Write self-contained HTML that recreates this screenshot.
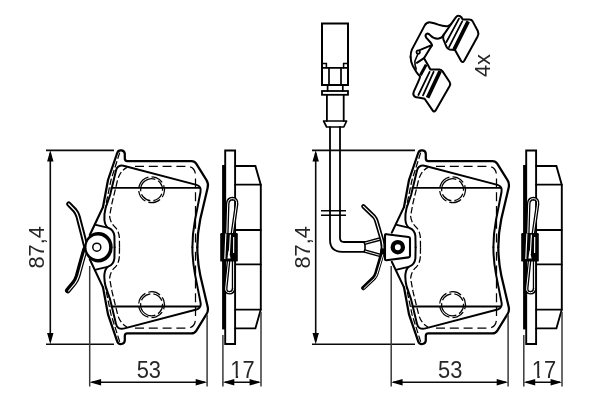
<!DOCTYPE html>
<html lang="en">
<head>
<meta charset="utf-8">
<title>Brake pad set dimensions</title>
<style>
html,body{margin:0;padding:0;background:#fff;}
body{width:600px;height:400px;overflow:hidden;}
svg{display:block;will-change:transform;}
text{font-family:"Liberation Sans",Arial,Helvetica,sans-serif;font-size:24.4px;fill:#262626;}
.m{fill:none;stroke:#000;stroke-width:2.25;stroke-linejoin:round;stroke-linecap:round;}
.d{fill:none;stroke:#000;stroke-width:1.25;stroke-dasharray:6.5 2.6;}
.t{fill:none;stroke:#0a0a0a;stroke-width:1.6;}
.e{fill:none;stroke:#3a3a3a;stroke-width:1.5;}
.a{fill:#000;stroke:none;}
</style>
</head>
<body>
<svg width="600" height="400" viewBox="0 0 600 400">
<defs>
  <!-- upper half of front view of pad (mirrored about y=247.2) -->
  <g id="padHalf">
    <!-- backplate outer -->
    <path class="m" d="M197.3,247.2 C197.4,236 198.6,227 200.3,219 L207.6,188 Q208.7,183.6 206.5,180.2 L196.2,163.6 Q194.6,161 191.5,161 L127.3,161 Q124.8,161 124.8,158.5 L124.8,154.4 A3.9,3.9 0 0 0 117.2,153 L108,180 L103,207"/>
    <!-- friction pad solid outline -->
    <path class="m" d="M192.4,247.2 C192.4,236 193.5,228 195,220 L200.5,192 Q201.6,186.4 196.5,184.9 L124.5,166 Q121,165 118.3,166.6 Q116.6,167.8 116,170.5 L110.1,195 L105.6,208 Q104,214 104.4,220 Q105,226 108.5,228 Q113.6,229.8 114.4,236 L114.6,247.2" style="stroke-width:2"/>
    <!-- pin line -->
    <path class="m" d="M111.3,187.9 L199.3,187.9" style="stroke-width:1.9"/>
    <!-- dashed -->
    <path class="d" d="M119.7,152.6 L111,180 L105.6,206"/>
    <path class="d" d="M119.5,247.2 L119.4,238 Q119,231.4 115.4,227.4 Q110.2,223 109.6,216 L112,203 L117.6,180 Q120,171 127,167.4"/>
    <path class="d" d="M135,166.3 L186.5,166.3 Q195.5,166.3 195.5,176 L195.5,247.2" style="stroke-dasharray:9 4.8"/>
    <circle class="d" cx="151.6" cy="189.7" r="12.9" style="stroke-dasharray:12.4 3.2" transform="rotate(-160 151.6 189.7)"/>
    <circle class="d" cx="151.6" cy="189.7" r="11" style="stroke-dasharray:11.4 3" transform="rotate(-130 151.6 189.7)"/>
  </g>
  <g id="pad">
    <use href="#padHalf"/>
    <use href="#padHalf" transform="translate(0,494.4) scale(1,-1)"/>
  </g>

  <!-- side view -->
  <g id="side">
    <rect class="a" x="222.1" y="165" width="3.2" height="164.4"/>
    <path class="m" d="M225.2,344 L225.2,150.5 L235.1,150.5 L235.1,344 Z" style="stroke-width:1.9;stroke-linejoin:miter"/>
    <path class="m" d="M235.1,166 L255.4,166 L260.8,185 L260.8,309.4 L255.4,328.4 L235.1,328.4" style="stroke-width:1.9;stroke-linejoin:miter"/>
    <path class="m" d="M235.1,184.7 H260.8 M235.1,230 H260.8 M235.1,264.4 H260.8 M235.1,309.6 H260.8" style="stroke-width:1.8"/>
    <!-- hairpin springs -->
    <path d="M226.4,246 L227.7,204 Q228,198.7 232.4,198.6 Q237,198.8 236.6,204 L230.6,246" fill="none" stroke="#000" stroke-width="3.6" stroke-linecap="round"/>
    <path d="M226.4,246 L227.7,204 Q228,198.7 232.4,198.6 Q237,198.8 236.6,204 L230.6,246" fill="none" stroke="#fff" stroke-width="1" stroke-linecap="round"/>
    <path d="M229.8,249 L225.7,288 Q225.3,292.6 229.4,292.7 Q233.5,292.7 233.6,288.4 L233.6,249" fill="none" stroke="#000" stroke-width="3.6" stroke-linecap="round"/>
    <path d="M229.8,249 L225.7,288 Q225.3,292.6 229.4,292.7 Q233.5,292.7 233.6,288.4 L233.6,249" fill="none" stroke="#fff" stroke-width="1" stroke-linecap="round"/>
    <rect class="a" x="220.2" y="233" width="17.6" height="28.6" rx="1.2"/>
    <path d="M225.9,233.4 L224.8,259 M230.4,234.6 L229.3,254 M233.7,237 L233.6,253" fill="none" stroke="#fff" stroke-width="1.15"/>
    <path d="M228.6,250 L227.4,258.4 L230.6,258.4 Z" fill="#fff"/>
  </g>
  <clipPath id="c17a"><path clip-rule="evenodd" d="M215,350 H270 V395 H215 Z M229,375.4 H235.7 V379 H229 Z M238.1,375.4 H244 V379 H238.1 Z"/></clipPath>
  <clipPath id="c17b"><path clip-rule="evenodd" d="M515,350 H575 V395 H515 Z M530,375.4 H537.3 V379 H530 Z M539.7,375.4 H546 V379 H539.7 Z"/></clipPath>
</defs>

<!-- ===================== LEFT PAD ===================== -->
<use href="#pad"/>
<!-- clip left -->
<g>
  <path class="m" d="M103,207 L89.8,235 M103,287.4 L89.8,259.4" style="stroke-width:2.1"/>
  <path class="m" d="M95.8,224.8 L107.4,227.6 M95.8,269.6 L107.4,266.8" style="stroke-width:1.8"/>
  <path d="M68.7,204 L74.9,210.4 Q77.1,212.8 78.1,216.6 L82.9,235 L85.5,245.6" fill="none" stroke="#000" stroke-width="5.2" stroke-linecap="round" stroke-linejoin="round"/>
  <path d="M68.7,204 L74.9,210.4 Q77.1,212.8 78.1,216.6 L82.9,235 L85.1,244" fill="none" stroke="#fff" stroke-width="1.3" stroke-linecap="round" stroke-linejoin="round"/>
  <path d="M85,249.4 L82,260 L77.6,276 Q76.4,280 74,283 L67.8,290.6" fill="none" stroke="#000" stroke-width="5.6" stroke-linecap="round" stroke-linejoin="round"/>
  <path d="M85.4,252 L83,260 L78.6,276 Q77.4,280 75,283.4 L68.6,291" fill="none" stroke="#fff" stroke-width="1.1" stroke-linecap="round" stroke-linejoin="round"/>
  <ellipse cx="98.5" cy="247.2" rx="14.2" ry="15.2" fill="#000"/>
  <ellipse cx="97.8" cy="247.2" rx="11.3" ry="11.8" fill="#fff"/>
  <circle cx="96.8" cy="247.2" r="4" fill="#fff" stroke="#000" stroke-width="1.5"/>
</g>
<use href="#side"/>

<!-- ===================== RIGHT PAD ===================== -->
<use href="#pad" transform="translate(301,0)"/>
<use href="#side" transform="translate(301,0)"/>

<!-- sensor wire + connector -->
<g>
  <path class="m" d="M322,85 L322,23.5 L348,23.5 L348,85 Z" style="stroke-width:2;stroke-linejoin:miter"/>
  <path class="m" d="M322,67.8 H348 M329,67.8 V85 M341,67.8 V85" style="stroke-width:1.7"/>
  <path class="m" d="M321.8,63.6 H326.4 V67.8 M348.2,63.6 H343.6 V67.8" style="stroke-width:1.5;stroke-linejoin:miter"/>
  <path class="m" d="M327.6,85 V91 M342.8,85 V91" style="stroke-width:1.7"/>
  <rect class="m" x="322" y="91" width="26" height="3.8" style="stroke-width:1.8;stroke-linejoin:miter"/>
  <path class="m" d="M326.9,95 V121 M343.7,95 V121" style="stroke-width:1.8"/>
  <path class="m" d="M323.6,121 L346.6,121 L343.8,127 L326.6,127 Z" style="stroke-width:1.7"/>
  <path class="m" d="M330,127 L330,239.8 Q330,251.8 342,251.8 L365,251.8" style="stroke-width:1.8"/>
  <path class="m" d="M340,127 L340,238 Q340,242 344,242 L365,242" style="stroke-width:1.8"/>
  <path class="m" d="M365,242 V251.8" style="stroke-width:1.6"/>
  <path d="M321,210.7 H346 M321,215.2 H346" fill="none" stroke="#000" stroke-width="1.4"/>
  <!-- taper -->
  <path d="M365.4,243 L381.6,238.6 M365.4,251.2 L381.6,255.8" fill="none" stroke="#000" stroke-width="3.7" stroke-linecap="round"/>
  <path d="M365.4,243 L381.6,238.6 M365.4,251.2 L381.6,255.8" fill="none" stroke="#fff" stroke-width=".9" stroke-linecap="round"/>
</g>
<!-- clip right -->
<g>
  <path class="m" d="M404,207 L391.8,232.6 M404,287.4 L391.8,261.8" style="stroke-width:2"/>
  <path class="m" d="M396.8,224.8 L408.4,227.6 M396.8,269.6 L408.4,266.8" style="stroke-width:1.8"/>
  <path d="M363.4,206.4 L374,216.6 Q375.6,218.4 376.4,221 L382,240 Q383.4,247.2 382.4,252" fill="none" stroke="#000" stroke-width="4.4" stroke-linecap="round" stroke-linejoin="round"/>
  <path d="M382.6,250 L382,254.4 L376.4,273.4 Q375.6,276 374,277.8 L363.4,288" fill="none" stroke="#000" stroke-width="4.5" stroke-linecap="round" stroke-linejoin="round"/>
  <path d="M363.4,206.4 L374,216.6 Q375.6,218.4 376.4,221 L382,240 Q383.2,245 383,248" fill="none" stroke="#fff" stroke-width="1.1" stroke-linecap="round" stroke-linejoin="round"/>
  <path d="M382.8,254.8 L377.1,273.7 Q376.3,276.3 374.6,278.3 L364,288.4" fill="none" stroke="#fff" stroke-width="1" stroke-linecap="round" stroke-linejoin="round"/>
  <path d="M386.4,234.2 L408.6,237 Q410,237.2 410,238.6 L410,255.8 Q410,257.2 408.6,257.4 L386.4,260.2 Q385,260.4 385,259 L385,235.4 Q385,234 386.4,234.2 Z" fill="#fff" stroke="#000" stroke-width="2.1" stroke-linejoin="round"/>
  <circle cx="397.8" cy="247.2" r="5.1" fill="#fff" stroke="#000" stroke-width="4.3"/>
</g>

<!-- anti-rattle clip icon -->
<g id="icon" fill="none" stroke="#000" stroke-width="2" stroke-linejoin="round" stroke-linecap="round">
  <!-- upper pad + strip outer -->
  <path d="M410.6,57 Q410.6,52 412,49.4 L424.6,25.6 Q426.6,22 430.6,22.4 Q434,22.8 438.3,24.6 Q444,26.6 448,26 Q450.4,25.4 451.4,23.6 L455.8,17.4 Q457.6,14.8 460,16.2 Q461.8,17.4 462.6,19.4 L469.6,19.6 Q471.6,19.6 472.8,21.6 L477.8,31 Q479,33.6 477.6,36.4 L464.4,60.6 Q463,63 461.4,61.4 L455,50"/>
  <!-- notch -->
  <path d="M443.6,34.8 Q441.8,38.4 437.6,38.8 Q433.6,38.8 430.4,35.4 Q428,32.8 426.4,34 Q424.8,35.4 426.2,37.6 L431,43 Q432.6,45 431.2,46.4"/>
  <path d="M431.6,45.2 L421.4,49.4 Q420.2,49.8 419.4,50.4 M431.8,45.4 L424,58.2 L416.8,62.8"/>
  <circle cx="418.2" cy="52" r="1.7" stroke-width="1.7"/>
  <!-- upper pad left edge and bottom -->
  <path d="M451.2,24 L443.8,34.6 Q442.6,37 443.4,39.4 L446.4,46.6 Q447.4,49 449.6,49.4 L455,50"/>
  <path d="M459,18.6 L446.4,42 M462.2,21.4 L449,47.2" stroke-width="1.75"/>
  <path d="M468.2,21.4 L454.2,49.4" stroke-width="3.8" stroke-linecap="butt"/>
  <!-- strip lower-left -->
  <path d="M410.6,57 Q410.8,62 412.6,65.4 L416.4,72 Q418,74.6 420.2,76.4 Q419.6,79 418.2,81.8 L413.8,91.6 Q412.6,94.6 414.4,96.4 Q416,97.6 418.4,97.6 L424.6,98.8 L432.6,110.4 Q434,112.6 435.6,110.4 L449.8,85.8 Q450.8,83.8 449.6,82 L442.6,71.4 Q441.6,69.6 439.4,69.4 L430.4,69.6 L426.8,63 L424,58.2"/>
  <path d="M418,53.8 L414.9,61 Q414.6,65 416.2,69" stroke-width="1.6"/>
  
  <path d="M426.2,64.6 L420.4,75.2" stroke-width="3" stroke-linecap="butt"/>
  <path d="M429.6,71.8 L418.4,95 M433.6,71.8 L423,95.4" stroke-width="1.75"/>
  <path d="M440.2,71 L427.6,97.8" stroke-width="3.8" stroke-linecap="butt"/>
</g>

<!-- ===================== DIMENSIONS ===================== -->
<g>
<path class="t" d="M46,150.4 H114 M46,344.3 H114 M50.3,153 V341"/>
<path class="a" d="M50.3,150.2 L47.1,161.4 L53.5,161.4 Z M50.3,344.2 L47.1,333.0 L53.5,333.0 Z"/>
<text transform="translate(44,247.4) rotate(-90)" text-anchor="middle" style="font-size:21.8px">87,4</text>
<path class="t" d="M312,150.4 H415 M312,344.3 H415 M315.7,153 V341"/>
<path class="a" d="M315.7,150.2 L312.5,161.4 L318.9,161.4 Z M315.7,344.2 L312.5,333.0 L318.9,333.0 Z"/>
<text transform="translate(309.6,247.4) rotate(-90)" text-anchor="middle" style="font-size:21.8px">87,4</text>
<path class="e" d="M89.7,266 V386.4 M207.1,315 V386.4"/>
<path class="t" d="M91.7,382.3 H205.1"/>
<path class="a" d="M89.7,382.3 L101.1,379.1 L101.1,385.5 Z M207.1,382.3 L195.7,379.1 L195.7,385.5 Z"/>
<text transform="translate(148.8,377.6) scale(.895,1)" text-anchor="middle">53</text>
<path class="e" d="M222.9,335 V386.4 M261,312 V386.4"/>
<path class="t" d="M224.9,382.3 H259"/>
<path class="a" d="M222.9,382.3 L234.3,379.1 L234.3,385.5 Z M261,382.3 L249.6,379.1 L249.6,385.5 Z"/>
<g clip-path="url(#c17a)"><text transform="translate(242.4,377.6) scale(.895,1)" text-anchor="middle">17</text></g>
<path class="e" d="M391.2,266 V386.4 M508.1,315 V386.4"/>
<path class="t" d="M393.2,382.3 H506.1"/>
<path class="a" d="M391.2,382.3 L402.6,379.1 L402.6,385.5 Z M508.1,382.3 L496.7,379.1 L496.7,385.5 Z"/>
<text transform="translate(450.2,377.6) scale(.895,1)" text-anchor="middle">53</text>
<path class="e" d="M523.8,335 V386.4 M562,312 V386.4"/>
<path class="t" d="M525.8,382.3 H560"/>
<path class="a" d="M523.8,382.3 L535.2,379.1 L535.2,385.5 Z M562,382.3 L550.6,379.1 L550.6,385.5 Z"/>
<g clip-path="url(#c17b)"><text transform="translate(544,377.6) scale(.895,1)" text-anchor="middle">17</text></g>
<text transform="translate(489.6,65.6) rotate(-90)" text-anchor="middle" style="font-size:21.8px">4x</text>
</g>
</svg>
</body>
</html>
